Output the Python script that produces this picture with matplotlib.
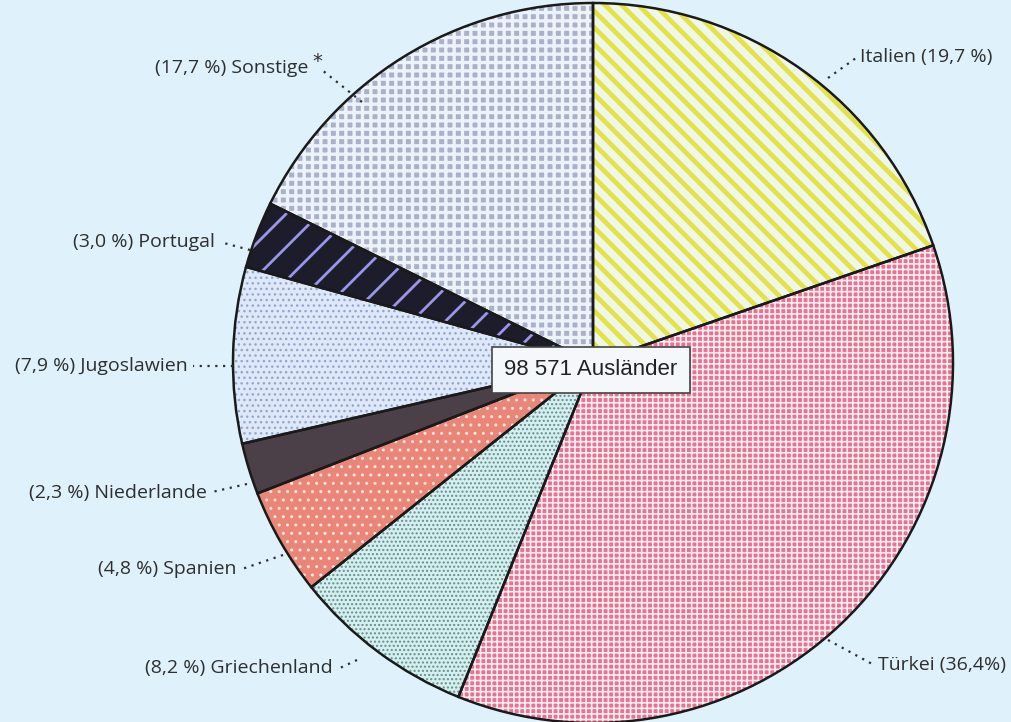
import numpy as np
import matplotlib.pyplot as plt

# data (clockwise from 12 o'clock)
laender = ['Italien', 'Türkei', 'Griechenland', 'Spanien', 'Niederlande',
           'Jugoslawien', 'Portugal', 'Sonstige']
anteile = [19.7, 36.4, 8.2, 4.8, 2.3, 7.9, 3.0, 17.7]
anteil_txt = ['19,7 %', '36,4%', '8,2 %', '4,8 %', '2,3 %', '7,9 %', '3,0 %', '17,7 %']
gesamt = '98 571 Ausländer'

# fill styles per slice
faces = ['#eef7ea', '#e8728f', '#d2f0f0', '#ea8678', '#4c4048', '#dfe8f8', '#1c1c2a', '#a9b2c8']
hatch_cols = ['#e4e244', '#fbeef3', '#6f8a8c', '#fbe4e0', '#4c4048', '#90a6d4', '#9a96ea', '#eef3fb']
hatches = ['\\\\', '+++', '....', '..', None, '...', '/', '++']
hatch_lw = [3.4, 1.2, 1.0, 1.0, 1.0, 1.0, 2.0, 2.4]

W, H = 1012, 722
cx, cy, r = 593, H - 363, 360
bg = '#dff2fb'

fig = plt.figure(figsize=(W / 100, H / 100), dpi=100, facecolor=bg)
ax = fig.add_axes([0, 0, 1, 1])
ax.set_facecolor(bg)

# filled + hatched wedges
wedges, _ = ax.pie(anteile, startangle=90, counterclock=False, center=(cx, cy),
                   radius=r, colors=faces,
                   wedgeprops=dict(linewidth=0))
for w, hc, ht, hl in zip(wedges, hatch_cols, hatches, hatch_lw):
    w.set_edgecolor(hc)
    if ht:
        w.set_hatch(ht)
        if hasattr(w, 'set_hatch_linewidth'):
            w.set_hatch_linewidth(hl)

# outlines
ax.pie(anteile, startangle=90, counterclock=False, center=(cx, cy), radius=r,
       colors=['none'] * len(anteile),
       wedgeprops=dict(edgecolor='#1a1a1a', linewidth=1.8, fill=False))

ax.set_xlim(0, W)
ax.set_ylim(0, H)
ax.set_aspect('equal')
ax.axis('off')

font = dict(family='Open Sans', fontsize=14, color='#2e2e2e')

# label positions (pixel coords from top) and leader lines
# (text x, text y, ha, leader start, leader end)
labels = [
    (860, 57, 'left', (828, 78), (856, 58)),     # Italien
    (878, 665, 'left', (828, 640), (874, 665)),  # Türkei
    (333, 668, 'right', (357, 660), (340, 668)), # Griechenland
    (237, 569, 'right', (283, 555), (242, 569)), # Spanien
    (207, 493, 'right', (247, 484), (212, 492)), # Niederlande
    (188, 366, 'right', (233, 366), (193, 366)), # Jugoslawien
    (215, 242, 'right', (250, 250), (220, 242)), # Portugal
    (308, 68, 'right', (362, 102), (322, 70)),   # Sonstige
]
for name, pct, (tx, ty, ha, p0, p1) in zip(laender, anteil_txt, labels):
    if ha == 'left':
        txt = f'{name} ({pct})'
    else:
        txt = f'({pct}) {name}'
    ax.text(tx, H - ty, txt, ha=ha, va='center', **font)
    ax.plot([p0[0], p1[0]], [H - p0[1], H - p1[1]], linestyle=(0, (1, 2.5)),
            color='#2e2e2e', linewidth=1.6)

ax.text(312, H - 62, '*', fontsize=14, color='#2e2e2e', ha='left', va='center',
        family='DejaVu Sans')

ax.text(cx - 2, H - 370, gesamt, ha='center', va='center', fontsize=16,
        family='Liberation Sans', color='#222222',
        bbox=dict(boxstyle='square,pad=0.55', facecolor='#f4f8fb',
                  edgecolor='#444444', linewidth=1.2))

fig.savefig('out.png', dpi=100, facecolor=bg)
